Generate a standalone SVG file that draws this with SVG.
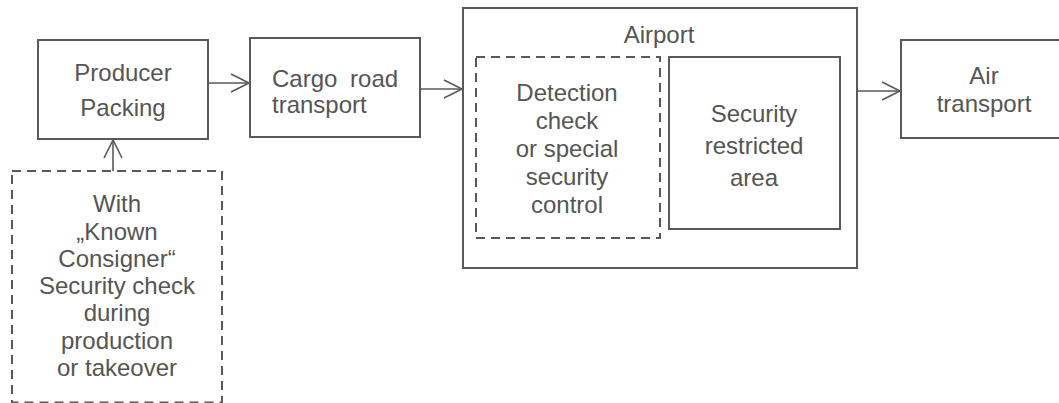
<svg xmlns="http://www.w3.org/2000/svg" width="1059" height="403" viewBox="0 0 1059 403">
<style>
  .box{fill:none;stroke:#595959;stroke-width:2}
  .dash{fill:none;stroke:#595959;stroke-width:2;stroke-dasharray:9,6}
  .t{font-family:"Liberation Sans",Arial,sans-serif;font-size:24px;fill:#555555}
  .c{text-anchor:middle}
  .conn{fill:none;stroke:#595959;stroke-width:1.6}
</style>
<defs>
  <marker id="arr" markerUnits="userSpaceOnUse" markerWidth="24" markerHeight="24" viewBox="-20 -12 24 24" refX="0" refY="0" orient="auto">
    <path d="M-18,-9 L0,0 L-18,9" fill="none" stroke="#595959" stroke-width="1.6"/>
  </marker>
</defs>
<rect width="1059" height="403" fill="#ffffff"/>

<g id="producer">
  <rect class="box" x="38" y="40" width="170" height="99"/>
  <text class="t c" x="123" y="81">Producer</text>
  <text class="t c" x="123" y="116">Packing</text>
</g>

<g id="known-consigner">
  <rect class="dash" x="12" y="171" width="210" height="231.5"/>
  <text class="t c" x="117" y="212">With</text>
  <text class="t c" x="117" y="240">„Known</text>
  <text class="t c" x="117" y="267">Consigner“</text>
  <text class="t c" x="117" y="294">Security check</text>
  <text class="t c" x="117" y="321">during</text>
  <text class="t c" x="117" y="349">production</text>
  <text class="t c" x="117" y="376">or takeover</text>
</g>

<g id="cargo">
  <rect class="box" x="250" y="38" width="170" height="99"/>
  <text class="t" x="272" y="87" word-spacing="6">Cargo road</text>
  <text class="t" x="272" y="113">transport</text>
</g>

<g id="airport">
  <rect class="box" x="463" y="8" width="394" height="260"/>
  <text class="t c" x="659" y="43">Airport</text>
</g>

<g id="detection">
  <rect class="dash" x="476" y="57" width="184" height="181"/>
  <text class="t c" x="567" y="101">Detection</text>
  <text class="t c" x="567" y="129">check</text>
  <text class="t c" x="567" y="157">or special</text>
  <text class="t c" x="567" y="185">security</text>
  <text class="t c" x="567" y="213">control</text>
</g>

<g id="restricted">
  <rect class="box" x="669" y="57" width="171" height="172"/>
  <text class="t c" x="754" y="122">Security</text>
  <text class="t c" x="754" y="154">restricted</text>
  <text class="t c" x="754" y="186">area</text>
</g>

<g id="air">
  <rect class="box" x="901" y="40" width="167" height="98"/>
  <text class="t c" x="984" y="84">Air</text>
  <text class="t c" x="984" y="112">transport</text>
</g>

<g id="connectors">
  <line class="conn" x1="113" y1="171" x2="113" y2="140" marker-end="url(#arr)"/>
  <line class="conn" x1="208" y1="83" x2="249" y2="83" marker-end="url(#arr)"/>
  <line class="conn" x1="420" y1="89" x2="462" y2="89" marker-end="url(#arr)"/>
  <line class="conn" x1="857" y1="91" x2="900" y2="91" marker-end="url(#arr)"/>
</g>
</svg>
